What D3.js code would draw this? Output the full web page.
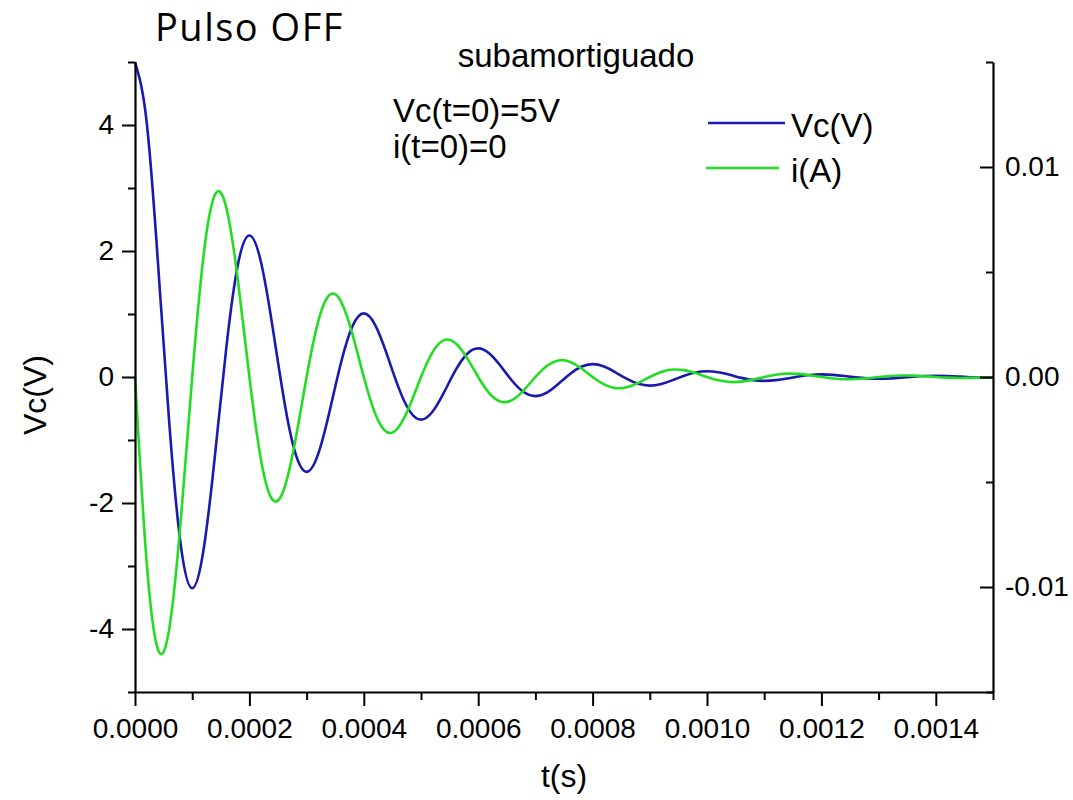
<!DOCTYPE html>
<html><head><meta charset="utf-8">
<script src="https://cdn.jsdelivr.net/npm/d3@7"></script>
<style>body{margin:0;background:#fff}svg{display:block}text{font-family:"Liberation Sans",Arial,sans-serif;fill:#000}</style>
</head><body><svg id="c" width="1073" height="800"></svg>
<script>
const time = [0,0.00002,0.00004,0.00006,0.00008,0.0001,0.00012,0.00014,0.00016,0.00018,0.0002,0.00022,0.00024,0.00026,0.00028,0.0003,0.00032,0.00034,0.00036,0.00038,0.0004,0.00042,0.00044,0.00046,0.00048,0.0005,0.00052,0.00054,0.00056,0.00058,0.0006,0.00062,0.00064,0.00066,0.00068,0.0007,0.00072,0.00074,0.00076,0.00078,0.0008,0.00082,0.00084,0.00086,0.00088,0.0009,0.00092,0.00094,0.00096,0.00098,0.001,0.00102,0.00104,0.00106,0.00108,0.0011,0.00112,0.00114,0.00116,0.00118,0.0012,0.00122,0.00124,0.00126,0.00128,0.0013,0.00132,0.00134,0.00136,0.00138,0.0014,0.00142,0.00144,0.00146,0.00148,0.0015];
const vc = [5,4.079,1.833,-0.739,-2.666,-3.352,-2.734,-1.228,0.495,1.787,2.247,1.833,0.823,-0.332,-1.198,-1.506,-1.229,-0.552,0.223,0.803,1.010,0.824,0.370,-0.149,-0.538,-0.677,-0.552,-0.248,0.100,0.361,0.454,0.370,0.166,-0.067,-0.242,-0.304,-0.248,-0.111,0.045,0.162,0.204,0.166,0.075,-0.030,-0.109,-0.137,-0.111,-0.050,0.020,0.073,0.092,0.075,0.034,-0.014,-0.049,-0.061,-0.050,-0.023,0.009,0.033,0.041,0.034,0.015,-0.006,-0.022,-0.028,-0.023,-0.010,0.004,0.015,0.019,0.015,0.007,-0.003,-0.010,-0.012];
const cur = [0,-0.008682,-0.012968,-0.011971,-0.006829,0,0.005820,0.008693,0.008024,0.004578,0,-0.003901,-0.005827,-0.005379,-0.003069,0,0.002615,0.003906,0.003606,0.002057,0,-0.001753,-0.002618,-0.002417,-0.001379,0,0.001175,0.001755,0.001620,0.000924,0,-0.000788,-0.001176,-0.001086,-0.000620,0,0.000528,0.000789,0.000728,0.000415,0,-0.000354,-0.000529,-0.000488,-0.000278,0,0.000237,0.000354,0.000327,0.000187,0,-0.000159,-0.000238,-0.000219,-0.000125,0,0.000107,0.000159,0.000147,0.000084,0,-0.000071,-0.000107,-0.000098,-0.000056,0,0.000048,0.000072,0.000066,0.000038,0,-0.000032,-0.000048,-0.000044,-0.000025,0];
const xTicks = [0,0.0002,0.0004,0.0006,0.0008,0.0010,0.0012,0.0014];
const xMinor = [0.0001,0.0003,0.0005,0.0007,0.0009,0.0011,0.0013,0.0015];
const yTicks = [-4,-2,0,2,4];
const yMinor = [-5,-3,-1,1,3,5];
const y2Ticks = [-0.01,0,0.01];
const y2Minor = [-0.015,-0.005,0.005,0.015];
const seriesNames = ["Vc(V)","i(A)"];
const colors = ["#1a1aae","#22dd22"];

const svg = d3.select("#c");
const L=135,R=993,T=62,B=692;
const x = d3.scaleLinear().domain([0,0.0015]).range([L,R]);
const y = d3.scaleLinear().domain([-5,5]).range([B,T]);
const y2 = d3.scaleLinear().domain([-0.015,0.015]).range([B,T]);
const hy = f => (d => f(d).replace("\u2212","-"));

// lines
const lineV = d3.line().x((d,i)=>x(time[i])).y(d=>y(d)).curve(d3.curveNatural);
const lineI = d3.line().x((d,i)=>x(time[i])).y(d=>y2(d)).curve(d3.curveNatural);
svg.append("path").attr("d",lineV(vc)).attr("fill","none").attr("stroke",colors[0]).attr("stroke-width",2.6);
svg.append("path").attr("d",lineI(cur)).attr("fill","none").attr("stroke",colors[1]).attr("stroke-width",2.6);

function styleAxis(g){g.selectAll("path").attr("stroke","#000").attr("stroke-width",2.2);
  g.selectAll("line").attr("stroke","#000").attr("stroke-width",2);
  g.selectAll("text").style("font-family",'"Liberation Sans",Arial,sans-serif').style("font-size","28px").attr("fill","#000");}

// x axis
const gx = svg.append("g").attr("transform",`translate(0,${B})`);
gx.call(d3.axisBottom(x).tickValues(xTicks).tickFormat(d3.format(".4f")).tickSize(14).tickSizeOuter(0).tickPadding(12));
gx.append("g").call(d3.axisBottom(x).tickValues(xMinor).tickFormat("").tickSize(8).tickSizeOuter(0)).select(".domain").remove();
styleAxis(gx);
// left axis
const gy = svg.append("g").attr("transform",`translate(${L},0)`);
gy.call(d3.axisLeft(y).tickValues(yTicks).tickFormat(hy(d3.format("d"))).tickSize(13).tickSizeOuter(0).tickPadding(8));
gy.append("g").call(d3.axisLeft(y).tickValues(yMinor).tickFormat("").tickSize(7).tickSizeOuter(0)).select(".domain").remove();
styleAxis(gy);
// right axis
const gy2 = svg.append("g").attr("transform",`translate(${R},0)`);
gy2.call(d3.axisRight(y2).tickValues(y2Ticks).tickFormat(hy(d3.format(".2f"))).tickSize(-13).tickSizeOuter(0).tickPadding(12));
gy2.append("g").call(d3.axisRight(y2).tickValues(y2Minor).tickFormat("").tickSize(-7).tickSizeOuter(0)).select(".domain").remove();
styleAxis(gy2);

// labels
svg.append("text").attr("x",564).attr("y",787).attr("text-anchor","middle").style("font-size","32px").text("t(s)");
svg.append("text").attr("transform","translate(46,395) rotate(-90)").attr("text-anchor","middle").style("font-size","32px").text("Vc(V)");
svg.append("text").attr("x",155).attr("y",41).style("font-family",'"Open Sans",sans-serif').style("font-size","38px").style("letter-spacing","1.5px").text("Pulso OFF");
svg.append("text").attr("x",576).attr("y",67).attr("text-anchor","middle").style("font-size","33px").text("subamortiguado");
svg.append("text").attr("x",393).attr("y",122).style("font-size","33px").text("Vc(t=0)=5V");
svg.append("text").attr("x",393).attr("y",158).style("font-size","33px").text("i(t=0)=0");

// legend
const leg = svg.append("g");
const legY=[123,168];
seriesNames.forEach((n,i)=>{
  leg.append("line").attr("x1",708-i*2).attr("x2",785-i*6).attr("y1",legY[i]).attr("y2",legY[i]).attr("stroke",colors[i]).attr("stroke-width",2.6);
  leg.append("text").attr("x",791).attr("y",legY[i]+14).style("font-size","33px").text(n);
});
</script></body></html>
